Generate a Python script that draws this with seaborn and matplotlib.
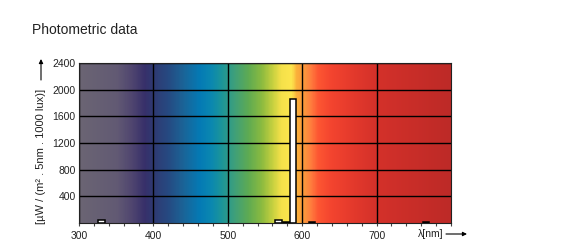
import numpy as np
import pandas as pd
import seaborn as sns
import matplotlib
matplotlib.use("Agg")
import matplotlib.pyplot as plt
from matplotlib.colors import LinearSegmentedColormap

# ---- data ----
wavelengths = [330, 568, 579, 588, 613, 766]
values = [40, 50, 8, 1866, 8, 10]
x_ticks = [300, 400, 500, 600, 700]
y_ticks = [400, 800, 1200, 1600, 2000, 2400]
title = "Photometric data"
y_label = "[µW / (m² . 5nm . 1000 lux)]"
x_label = "λ[nm]"

# spectrum background stops (nm, colour)
spec_nm = [300, 350, 372, 388, 400, 420, 440, 462, 478, 492, 508, 528, 546, 560,
           572, 586, 593, 602, 612, 622, 640, 670, 700, 800]
spec_col = ["#6b6573", "#625a74", "#4e446f", "#37306a", "#2f3a72", "#264a82",
            "#1b6497", "#047ab5", "#0b88b0", "#1c9599", "#3d9f7c", "#5fab52",
            "#8cbb40", "#c5d03f", "#f5e14a", "#fde64e", "#fbb03a", "#fa9a3c",
            "#ff7d3e", "#fd5632", "#f3442f", "#e3392c", "#d4312a", "#bd2a27"]

sns.set_theme(style="white")
plt.rcParams['font.family'] = ['Liberation Sans', 'DejaVu Sans']

fig = plt.figure(figsize=(5.83, 2.49), dpi=100)
ax = fig.add_axes([79 / 583, 1 - 223 / 249, 372 / 583, 160 / 249])

# background spectrum
pos = [(n - 300) / 500 for n in spec_nm]
cmap = LinearSegmentedColormap.from_list("spec", list(zip(pos, spec_col)), N=512)
grad = np.linspace(300, 800, 600).reshape(1, -1)
ax.imshow(grad, cmap=cmap, vmin=300, vmax=800, extent=[300, 800, 0, 2400],
          aspect="auto", origin="lower", zorder=0)

df = pd.DataFrame({"wl": wavelengths, "val": values})
sns.barplot(data=df, x="wl", y="val", native_scale=True, width=0.95,
            color="white", saturation=1, edgecolor="black", linewidth=1.1,
            errorbar=None, ax=ax, zorder=2)

ax.set_xlim(300, 800)
ax.set_ylim(0, 2400)
ax.set_xticks(x_ticks)
ax.set_xticks(np.arange(300, 801, 20), minor=True)
ax.set_yticks(y_ticks)
ax.set_xlabel("")
ax.set_ylabel("")
ax.set_axisbelow(True)
ax.grid(True, which="major", color="black", linewidth=1.0)
ax.grid(False, which="minor")
for s in ax.spines.values():
    s.set_visible(True)
    s.set_color("#222222")
    s.set_linewidth(0.8)

ax.tick_params(axis="x", which="both", direction="out", bottom=True, color="#444444",
               length=2.5, width=0.8, labelsize=7.5, labelcolor="#222222", pad=3)
ax.tick_params(axis="y", which="both", left=False, length=0, labelsize=7.5,
               labelcolor="#222222", pad=2.5)

fig.text(32 / 583, 1 - 30 / 249, title, fontsize=10, color="#222222",
         ha="left", va="center")
fig.text(41 / 583, 1 - 156 / 249, y_label, rotation=90, fontsize=8,
         color="#222222", ha="center", va="center")
fig.text(431 / 583, 1 - 234 / 249, x_label, fontsize=7.5, color="#222222",
         ha="center", va="center")

ax.annotate("", xy=(41 / 583, 1 - 59 / 249), xytext=(41 / 583, 1 - 80 / 249),
            xycoords="figure fraction", textcoords="figure fraction",
            arrowprops=dict(arrowstyle="-|>", color="black", lw=0.8,
                            mutation_scale=6, shrinkA=0, shrinkB=0))
ax.annotate("", xy=(467 / 583, 1 - 234 / 249), xytext=(446 / 583, 1 - 234 / 249),
            xycoords="figure fraction", textcoords="figure fraction",
            arrowprops=dict(arrowstyle="-|>", color="black", lw=0.8,
                            mutation_scale=6, shrinkA=0, shrinkB=0))

fig.savefig("out.png", dpi=100)
